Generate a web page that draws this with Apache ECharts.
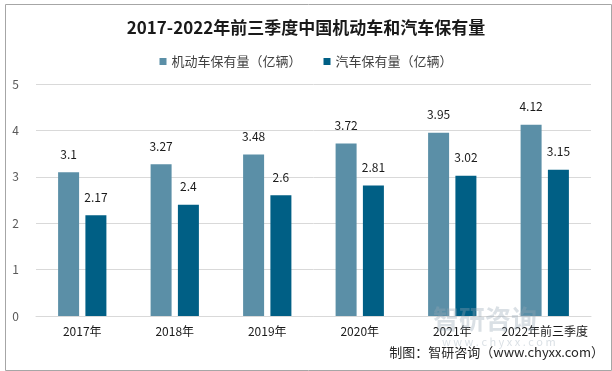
<!DOCTYPE html>
<html><head><meta charset="utf-8">
<script src="https://cdn.jsdelivr.net/npm/echarts@6/dist/echarts.min.js"></script>
<style>html,body{margin:0;padding:0;background:#fff}#c{width:612px;height:371px}</style>
</head><body><div id="c"></div>
<script>
const categories = ['2017年','2018年','2019年','2020年','2021年','2022年前三季度'];
const motorVehicles = [3.1, 3.27, 3.48, 3.72, 3.95, 4.12];
const cars = [2.17, 2.4, 2.6, 2.81, 3.02, 3.15];
const seriesNames = ['机动车保有量（亿辆）','汽车保有量（亿辆）'];
const font = '"Microsoft YaHei","Noto Sans CJK SC",sans-serif';
const chart = echarts.init(document.getElementById('c'));
chart.setOption({
  animation:false,
  title:{text:'2017-2022年前三季度中国机动车和汽车保有量',left:'center',top:14,
    textStyle:{fontSize:17,fontWeight:'bold',color:'#1a1a1a',fontFamily:font}},
  legend:{top:50,left:'center',itemWidth:7,itemHeight:7,itemGap:22,icon:'rect',
    textStyle:{fontSize:13,color:'#404040',fontFamily:font}},
  grid:{left:36,right:21,top:84,bottom:55,containLabel:false},
  xAxis:{type:'category',data:categories,
    axisLine:{lineStyle:{color:'#d9d9d9'}},axisTick:{show:false},
    axisLabel:{interval:0,color:'#1a1a1a',fontSize:12,margin:9,fontFamily:font}},
  yAxis:{type:'value',min:0,max:5,interval:1,
    axisLine:{show:false},axisTick:{show:false},
    splitLine:{lineStyle:{color:'#d9d9d9'}},
    axisLabel:{color:'#595959',fontSize:12,margin:17,fontFamily:font}},
  series:[
    {name:seriesNames[0],type:'bar',data:motorVehicles,barWidth:21,barGap:'30%',
     itemStyle:{color:'#5b8fa7'},
     label:{show:true,position:'top',distance:12,color:'#1a1a1a',fontSize:12,fontFamily:font}},
    {name:seriesNames[1],type:'bar',data:cars,barWidth:21,
     itemStyle:{color:'#005f85'},
     label:{show:true,position:'top',distance:12,color:'#1a1a1a',fontSize:12,fontFamily:font}}
  ],
  graphic:[
    {type:'rect',left:3,top:2,shape:{width:606,height:366},style:{fill:'none',stroke:'#a6a6a6',lineWidth:1},silent:true},
    {type:'text',left:433,top:306,z:100,style:{text:'智研咨询',fontSize:26,fontWeight:'bold',fill:'rgba(150,165,180,0.35)',fontFamily:font}},
    {type:'text',left:442,top:336,z:100,style:{text:'w w w . c h y x x . c o m',fontSize:11,fill:'rgba(150,165,180,0.35)',fontFamily:font}},
    {type:'text',right:8,top:346,z:101,style:{text:'制图：智研咨询（www.chyxx.com）',fontSize:13,fill:'#262626',fontFamily:font}}
  ]
});
</script></body></html>
